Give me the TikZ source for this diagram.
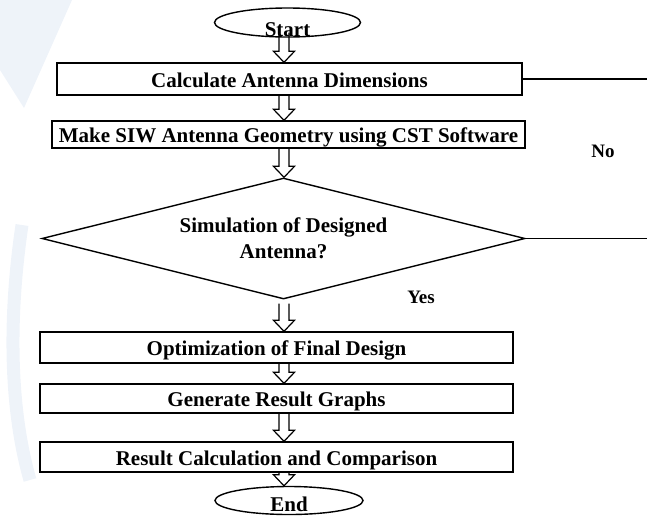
\documentclass[tikz,border=0pt]{standalone}
\usepackage{fontspec}
\setmainfont{Liberation Serif}
\usetikzlibrary{shapes.geometric,calc}
\definecolor{wm}{RGB}{238,243,249}
\newcommand\barrow[3][0pt]{%
  \draw[blockarr] let \p1=(#2.south), \p2=(#3.north), \p3=(axis) in
    (\x3-5pt,\y1+#1) -- (\x3-5pt,\y2+11pt) -- (\x3-10.5pt,\y2+11pt) -- (\x3,\y2)
    -- (\x3+10.5pt,\y2+11pt) -- (\x3+5pt,\y2+11pt) -- (\x3+5pt,\y1+#1);}
\begin{document}
\begin{tikzpicture}[x=1pt,y=-1pt,
  every node/.style={font=\fontsize{21}{26}\selectfont\bfseries, inner sep=0pt},
  box/.style={draw, line width=1.4pt, rectangle, minimum height=#1, text height=16pt, text depth=0pt},
  term/.style={draw, line width=1.4pt, ellipse, minimum width=146pt, minimum height=29pt},
  decision/.style={draw, line width=1.4pt, diamond, aspect=4, minimum width=483pt, minimum height=121pt, align=center},
  blockarr/.style={draw, line width=1.2pt, line join=miter},
  link/.style={draw, line width=1.4pt},
  lbl/.style={font=\fontsize{19}{22}\selectfont\bfseries}
]
\useasboundingbox (0,0) rectangle (647,517);
\begin{scope}
\clip (0,0) rectangle (647,517);
% faint watermark
\fill[wm] (0,0) -- (72,0) -- (24,108) -- (0,70) -- cycle;
\draw[wm, line width=13pt] (22,225) .. controls (8,320) and (10,410) .. (30,480);

\coordinate (axis) at (284,0);
\node[term] (start) at (287.5,22.5) {\raisebox{-7pt}[13pt][0pt]{Start}};
\node[box=32pt, minimum width=465pt] (b1) at (289.5,79) {Calculate Antenna Dimensions};
\node[box=27pt, minimum width=473pt] (b2) at (288.5,134.5) {Make SIW Antenna Geometry using CST Software};
\node[decision] (d) at (283.5,238.5) {Simulation of Designed\\Antenna?};
\node[box=31pt, minimum width=473pt] (b3) at (276.5,347.5) {Optimization of Final Design};
\node[box=29pt, minimum width=473pt] (b4) at (276.5,398.5) {Generate Result Graphs};
\node[box=30pt, minimum width=473pt] (b5) at (276.5,457) {Result Calculation and Comparison};
\node[term, minimum width=148pt, minimum height=28pt] (end) at (289,500.5) {\raisebox{-4pt}[13pt][0pt]{End}};

\node[lbl] (no) at (603,151) {No};
\node[lbl] (yes) at (421,297) {Yes};

\coordinate (r1) at (647,79);
\coordinate (r2) at (647,238.5);
\draw[link] (b1.east) -- (r1);
\draw[link] (d.east) -- (r2);

\barrow[5pt]{start}{b1}
\barrow{b1}{b2}
\barrow{b2}{d}
\barrow[-4pt]{d}{b3}
\barrow{b3}{b4}
\barrow{b4}{b5}
\barrow{b5}{end}
\end{scope}
\end{tikzpicture}
\end{document}
